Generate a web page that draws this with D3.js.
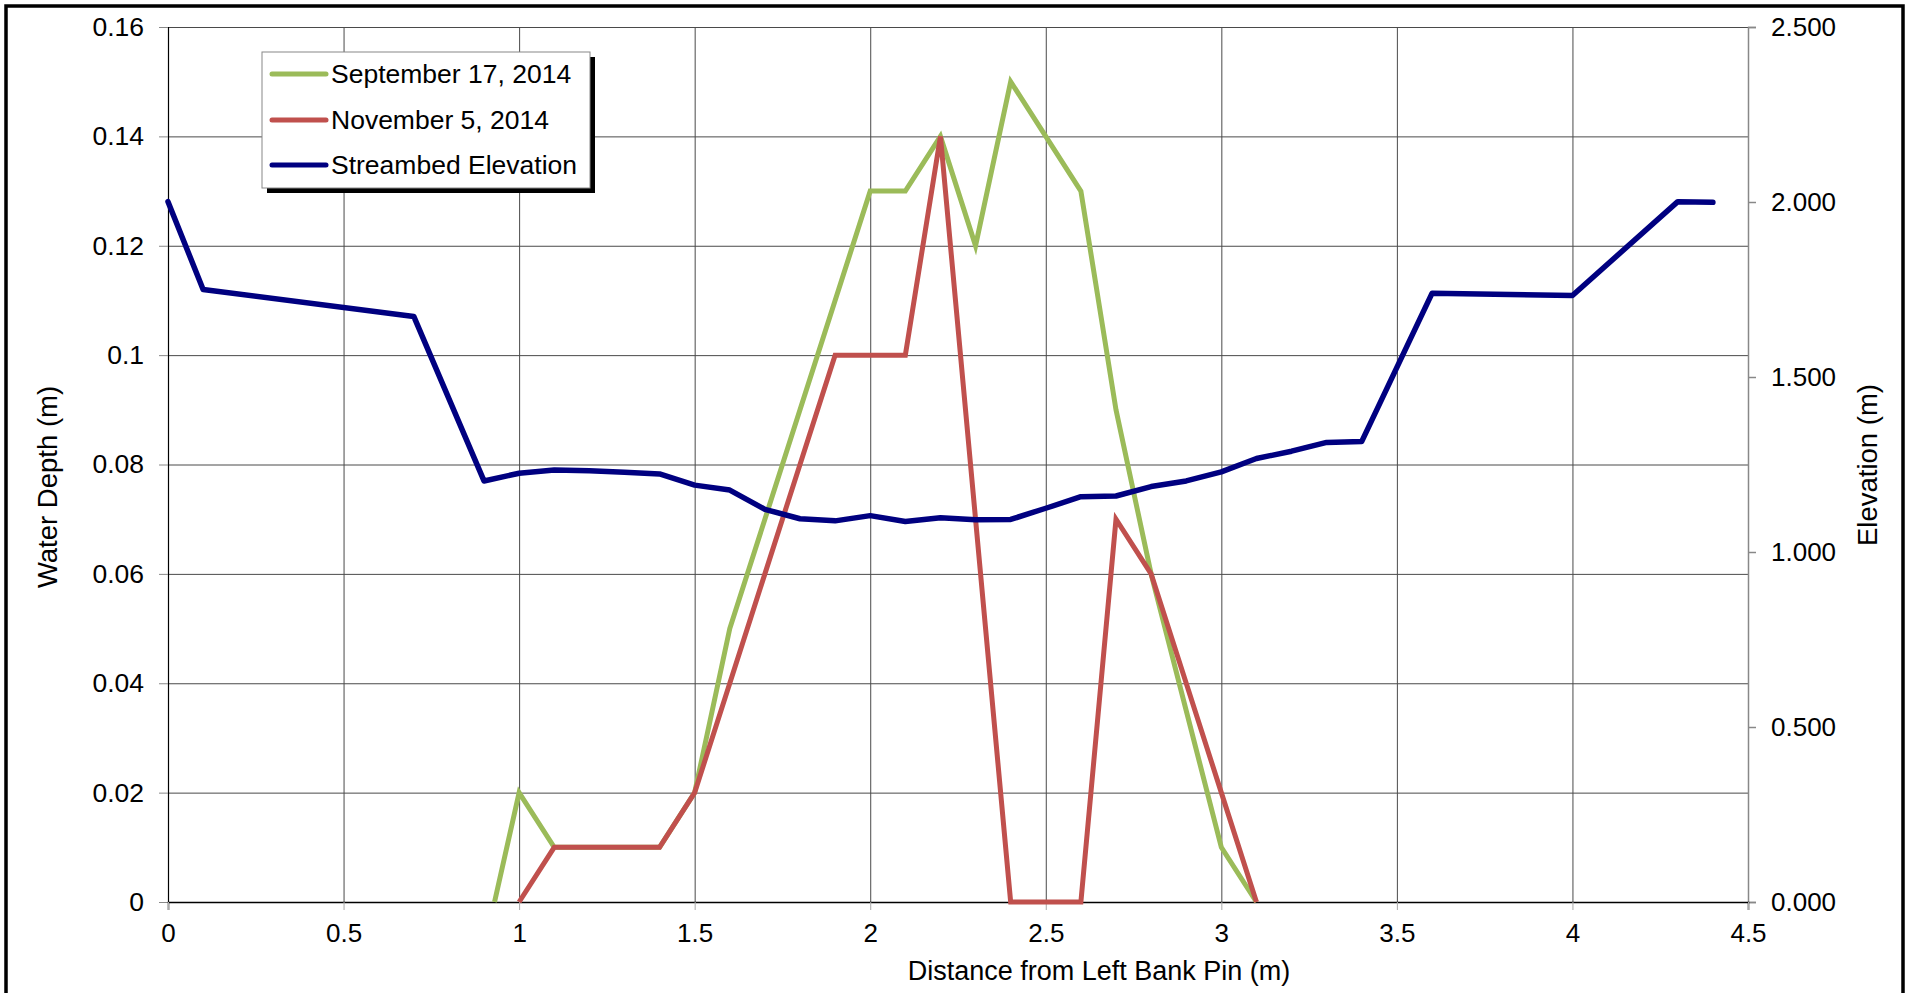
<!DOCTYPE html>
<html>
<head>
<meta charset="utf-8">
<script src="https://cdn.jsdelivr.net/npm/d3@7"></script>
<style>
  html, body { margin: 0; padding: 0; background: #fff; }
  svg { display: block; font-family: "Liberation Sans", Arial, sans-serif; }
</style>
</head>
<body>
<svg id="chart" width="1911" height="993"></svg>
<script>
// ---- data ----
const seriesNames = ["September 17, 2014", "November 5, 2014", "Streambed Elevation"];
const seriesColors = ["#9BBB59", "#C0504D", "#000080"];

const sepX = [0.93, 1.0, 1.1, 1.2, 1.3, 1.4, 1.5, 1.6, 1.7, 1.8, 1.9, 2.0, 2.1, 2.2, 2.3, 2.4, 2.5, 2.6, 2.7, 2.8, 2.9, 3.0, 3.1];
const sepDepth = [0, 0.02, 0.01, 0.01, 0.01, 0.01, 0.02, 0.05, 0.07, 0.09, 0.11, 0.13, 0.13, 0.14, 0.12, 0.15, 0.14, 0.13, 0.09, 0.06, 0.035, 0.01, 0];

const novX = [1.0, 1.1, 1.2, 1.3, 1.4, 1.5, 1.6, 1.7, 1.8, 1.9, 2.0, 2.1, 2.2, 2.3, 2.4, 2.5, 2.6, 2.7, 2.8, 2.9, 3.0, 3.1];
const novDepth = [0, 0.01, 0.01, 0.01, 0.01, 0.02, 0.04, 0.06, 0.08, 0.10, 0.10, 0.10, 0.14, 0.07, 0, 0, 0, 0.07, 0.06, 0.04, 0.02, 0];

const elevX = [0, 0.1, 0.7, 0.9, 1.0, 1.1, 1.2, 1.3, 1.4, 1.5, 1.6, 1.7, 1.8, 1.9, 2.0, 2.1, 2.2, 2.3, 2.4, 2.5, 2.6, 2.7, 2.8, 2.9, 3.0, 3.1, 3.2, 3.3, 3.4, 3.6, 4.0, 4.3, 4.4];
const elevation = [2.001, 1.750, 1.673, 1.203, 1.225, 1.234, 1.232, 1.228, 1.223, 1.191, 1.177, 1.122, 1.095, 1.089, 1.104, 1.087, 1.098, 1.092, 1.093, 1.125, 1.158, 1.160, 1.187, 1.203, 1.229, 1.267, 1.288, 1.313, 1.316, 1.739, 1.733, 2.001, 1.999];

const xTicks = [0, 0.5, 1, 1.5, 2, 2.5, 3, 3.5, 4, 4.5];
const yLeftTicks = [0, 0.02, 0.04, 0.06, 0.08, 0.1, 0.12, 0.14, 0.16];
const yRightTicks = [0, 0.5, 1.0, 1.5, 2.0, 2.5];

const xTitle = "Distance from Left Bank Pin (m)";
const yLeftTitle = "Water Depth (m)";
const yRightTitle = "Elevation (m)";

// ---- layout ----
const svg = d3.select("#chart");
const L = 168, R = 1748, T = 27, B = 902;

const x = d3.scaleLinear().domain([0, 4.5]).range([L, R]);
const yL = d3.scaleLinear().domain([0, 0.16]).range([B, T]);
const yR = d3.scaleLinear().domain([0, 2.5]).range([B, T]);

// outer frame
svg.append("rect").attr("x", 6).attr("y", 6).attr("width", 1897).attr("height", 1010)
  .attr("fill", "#fff").attr("stroke", "#000").attr("stroke-width", 3.5);

// gridlines
const grid = svg.append("g");
grid.append("g").attr("transform", `translate(0,${B})`)
  .call(d3.axisBottom(x).tickValues(xTicks).tickSize(-(B - T)).tickFormat(""))
  .call(g => g.select(".domain").remove())
  .call(g => g.selectAll("line").attr("stroke", "#4a4a4a").attr("stroke-width", 1));
grid.append("g").attr("transform", `translate(${L},0)`)
  .call(d3.axisLeft(yL).tickValues(yLeftTicks).tickSize(-(R - L)).tickFormat(""))
  .call(g => g.select(".domain").remove())
  .call(g => g.selectAll("line").attr("stroke", "#4a4a4a").attr("stroke-width", 1));

const fmtLeft = d => d === 0 ? "0" : String(+d.toFixed(2));

// left axis
const gL = svg.append("g").attr("transform", `translate(${L},0)`)
  .call(d3.axisLeft(yL).tickValues(yLeftTicks).tickSize(9).tickPadding(15).tickFormat(fmtLeft));
gL.select(".domain").attr("stroke", "#000").attr("stroke-width", 1.2);
gL.selectAll(".tick line").attr("stroke", "#888");
gL.selectAll("text").attr("font-size", 26.5).attr("fill", "#000")
  .attr("font-family", "Liberation Sans, Arial, sans-serif");

// right axis
const gR = svg.append("g").attr("transform", `translate(${R},0)`)
  .call(d3.axisRight(yR).tickValues(yRightTicks).tickSize(8).tickPadding(15).tickFormat(d3.format(".3f")));
gR.select(".domain").attr("stroke", "#888").attr("stroke-width", 1.5);
gR.selectAll(".tick line").attr("stroke", "#888").attr("stroke-width", 1.5);
gR.selectAll("text").attr("font-size", 26).attr("fill", "#000")
  .attr("font-family", "Liberation Sans, Arial, sans-serif");

// bottom axis
const gB = svg.append("g").attr("transform", `translate(0,${B})`)
  .call(d3.axisBottom(x).tickValues(xTicks).tickSize(8).tickPadding(14).tickFormat(d => String(d)));
gB.select(".domain").attr("stroke", "#000").attr("stroke-width", 1.5);
gB.selectAll(".tick line").attr("stroke", "#aaa");
gB.selectAll("text").attr("font-size", 26).attr("fill", "#000")
  .attr("font-family", "Liberation Sans, Arial, sans-serif");

// axis titles
svg.append("text").attr("x", 1099).attr("y", 980).attr("text-anchor", "middle")
  .attr("font-size", 27).attr("fill", "#000").text(xTitle);
svg.append("text").attr("transform", "translate(47,487) rotate(-90)").attr("text-anchor", "middle")
  .attr("dominant-baseline", "central").attr("font-size", 27.5).attr("fill", "#000").text(yLeftTitle);
svg.append("text").attr("transform", "translate(1867,465) rotate(-90)").attr("text-anchor", "middle")
  .attr("dominant-baseline", "central").attr("font-size", 27.5).attr("fill", "#000").text(yRightTitle);

// lines
const lineL = d3.line().x(d => x(d[0])).y(d => yL(d[1]));
const lineR = d3.line().x(d => x(d[0])).y(d => yR(d[1]));
const plot = svg.append("g");
plot.append("path").datum(sepX.map((v, i) => [v, sepDepth[i]]))
  .attr("d", lineL).attr("fill", "none").attr("stroke", seriesColors[0])
  .attr("stroke-width", 5).attr("stroke-linejoin", "miter");
plot.append("path").datum(novX.map((v, i) => [v, novDepth[i]]))
  .attr("d", lineL).attr("fill", "none").attr("stroke", seriesColors[1])
  .attr("stroke-width", 5).attr("stroke-linejoin", "miter");
plot.append("path").datum(elevX.map((v, i) => [v, elevation[i]]))
  .attr("d", lineR).attr("fill", "none").attr("stroke", seriesColors[2])
  .attr("stroke-width", 5.5).attr("stroke-linejoin", "round").attr("stroke-linecap", "round");

// legend
const lg = svg.append("g");
const lx = 262, ly = 52, lw = 328, lh = 136;
lg.append("rect").attr("x", lx + 5).attr("y", ly + 5).attr("width", lw).attr("height", lh).attr("fill", "#000");
lg.append("rect").attr("x", lx).attr("y", ly).attr("width", lw).attr("height", lh)
  .attr("fill", "#fff").attr("stroke", "#888").attr("stroke-width", 1);
const rowsY = [74, 120, 165];
seriesNames.forEach((name, i) => {
  lg.append("line").attr("x1", 272).attr("x2", 326).attr("y1", rowsY[i]).attr("y2", rowsY[i])
    .attr("stroke", seriesColors[i]).attr("stroke-width", 5).attr("stroke-linecap", "round");
  lg.append("text").attr("x", 331).attr("y", rowsY[i]).attr("dominant-baseline", "central")
    .attr("font-size", 26.5).attr("fill", "#000").text(name);
});
</script>
</body>
</html>
